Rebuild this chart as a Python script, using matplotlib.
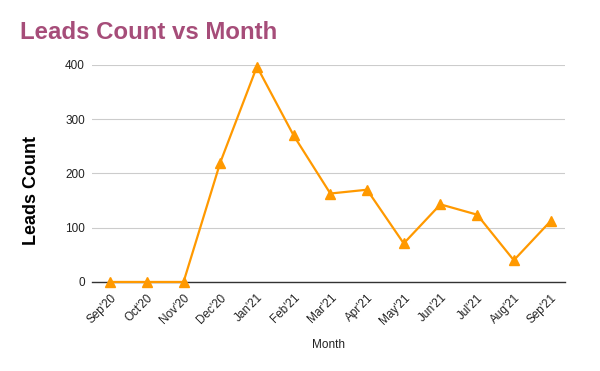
import matplotlib
matplotlib.use("Agg")
import matplotlib.pyplot as plt

plt.rcParams['font.family'] = ['Liberation Sans', 'DejaVu Sans']

# data
months = ["Sep'20", "Oct'20", "Nov'20", "Dec'20", "Jan'21", "Feb'21", "Mar'21",
          "Apr'21", "May'21", "Jun'21", "Jul'21", "Aug'21", "Sep'21"]
leads = [0, 0, 0, 220, 397, 270, 163, 170, 71, 143, 124, 40, 112]
y_ticks = [0, 100, 200, 300, 400]

fig = plt.figure(figsize=(6.0, 3.71), dpi=100)
ax = fig.add_axes([0.153, 0.24, 0.789, 0.585])

x = list(range(len(months)))
ax.plot(x, leads, color='#ff9900', linewidth=1.6, marker='^', markersize=6.5,
        clip_on=False, zorder=3)

ax.set_xlim(-0.5, 12.4)
ax.set_ylim(0, 400)
ax.set_yticks(y_ticks)
ax.set_xticks(x)
ax.set_xticklabels(months, rotation=45, ha='right', rotation_mode='anchor')

# gridlines like the Google Sheets look
ax.grid(axis='y', color='#cccccc', linewidth=0.8)
ax.set_axisbelow(True)
for side in ['top', 'right', 'left']:
    ax.spines[side].set_visible(False)
ax.spines['bottom'].set_color('#333333')
ax.spines['bottom'].set_linewidth(1.0)
ax.tick_params(axis='both', length=0, labelsize=8.5, colors='#222222')
ax.tick_params(axis='y', pad=5)
ax.tick_params(axis='x', pad=7)

ax.set_xlabel('Month', fontsize=8.5, color='#222222', labelpad=9)

# y label sits a bit below the axes centre in the reference
fig.text(0.052, 1 - 190 / 371, 'Leads Count', fontsize=13, fontweight='bold',
         color='black', rotation=90, va='center', ha='center')

fig.text(0.033, 0.912, 'Leads Count vs Month', fontsize=17.3, fontweight='bold',
         color='#a64d79', va='center', ha='left')

fig.savefig('out.png', dpi=100, facecolor='white')
